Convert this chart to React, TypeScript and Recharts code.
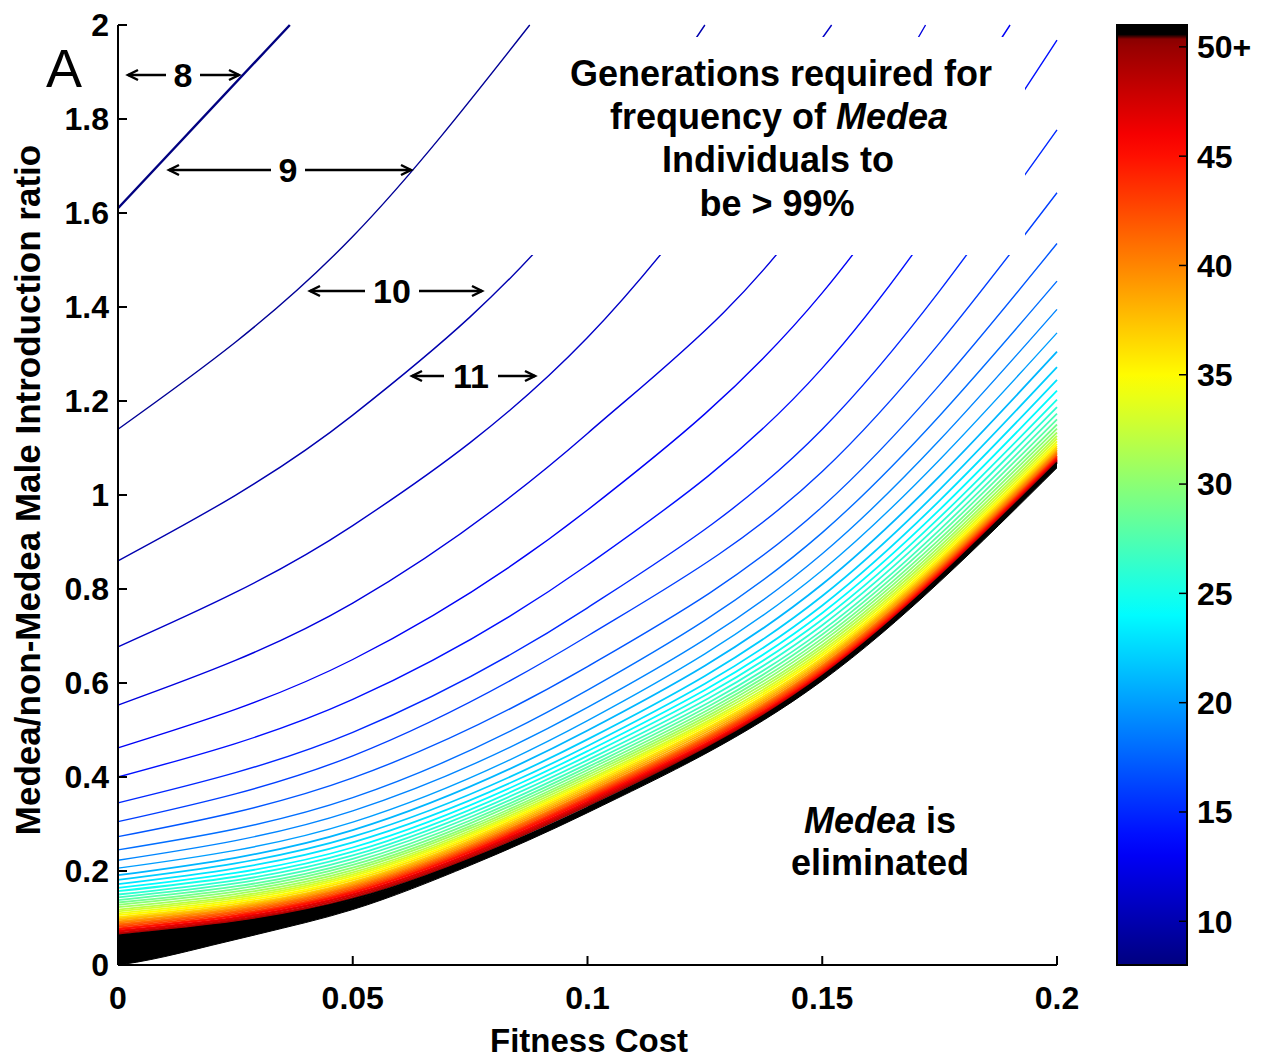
import React from "react";
import { Area, ComposedChart, Line, ReferenceArea, XAxis, YAxis } from "recharts";

const FONT = "'Liberation Sans', Arial, Helvetica, sans-serif";

// contour levels = generations needed for Medea frequency > 99%
const levels = [
  8, 9, 10, 11, 12, 13, 14, 15, 16, 17, 18, 19, 20, 21, 22, 23, 24, 25, 26, 27, 28,
  29, 30, 31, 32, 33, 34, 35, 36, 37, 38, 39, 40, 41, 42, 43, 44, 45, 46, 47, 48, 49, 50,
];

// introduction ratio of each contour, read at fitness cost 0 / 0.05 / 0.1 / 0.15 / 0.2
const costCols = [0, 0.05, 0.1, 0.15, 0.2];
const ratioAt000 = [
  1.61, 1.14, 0.86, 0.677, 0.553, 0.462, 0.4, 0.345, 0.305, 0.273,
  0.245, 0.223, 0.206, 0.191, 0.181, 0.172, 0.164, 0.157, 0.15, 0.144,
  0.138, 0.133, 0.128, 0.123, 0.118, 0.114, 0.11, 0.106, 0.102, 0.099,
  0.096, 0.093, 0.09, 0.087, 0.084, 0.081, 0.078, 0.076, 0.073, 0.071,
  0.068, 0.066, 0.063,
];
const ratioAt005 = [
  null, 1.55, 1.17, 0.935, 0.77, 0.65, 0.565, 0.495, 0.445, 0.398,
  0.356, 0.328, 0.304, 0.287, 0.273, 0.261, 0.25, 0.241, 0.233, 0.226,
  0.219, 0.213, 0.207, 0.202, 0.197, 0.193, 0.189, 0.185, 0.181, 0.177,
  0.174, 0.171, 0.168, 0.165, 0.162, 0.159, 0.156, 0.154, 0.151, 0.149,
  0.146, 0.143, 0.14,
];
const ratioAt010 = [
  null, null, 1.647, 1.335, 1.131, 0.968, 0.851, 0.76, 0.7, 0.635,
  0.585, 0.548, 0.52, 0.499, 0.48, 0.466, 0.455, 0.445, 0.436, 0.428,
  0.421, 0.415, 0.409, 0.404, 0.399, 0.394, 0.39, 0.386, 0.382, 0.378,
  0.374, 0.37, 0.366, 0.363, 0.36, 0.357, 0.354, 0.351, 0.348, 0.345,
  0.342, 0.339, 0.335,
];
const ratioAt015 = [
  null, null, null, null, 1.64, 1.43, 1.27, 1.14, 1.05, 0.975,
  0.92, 0.875, 0.84, 0.81, 0.785, 0.765, 0.749, 0.735, 0.723, 0.712,
  0.703, 0.695, 0.688, 0.681, 0.675, 0.669, 0.664, 0.659, 0.654, 0.65,
  0.646, 0.642, 0.638, 0.635, 0.632, 0.629, 0.626, 0.623, 0.621, 0.619,
  0.617, 0.616, 0.615,
];
const ratioAt020 = [
  null, null, null, null, null, null, 1.968, 1.777, 1.643, 1.535,
  1.455, 1.395, 1.345, 1.305, 1.272, 1.245, 1.222, 1.203, 1.187, 1.173,
  1.161, 1.15, 1.141, 1.133, 1.126, 1.12, 1.114, 1.109, 1.104, 1.1,
  1.096, 1.093, 1.09, 1.087, 1.084, 1.082, 1.08, 1.078, 1.076, 1.074,
  1.072, 1.071, 1.069,
];
// fitness cost where a contour leaves the top of the plot (ratio = 2)
const topExitCost = [0.0366, 0.0877, 0.125, 0.152, 0.172, 0.19];

// black "50+" region between the elimination boundary and the 50 contour
const elimCost = [0, 0.004, 0.01, 0.02, 0.03, 0.05, 0.075, 0.1, 0.15, 0.2];
const elimLow = [0, 0.006, 0.018, 0.042, 0.066, 0.118, 0.212, 0.324, 0.605, 1.058];
const elimHigh = [0.063, 0.067, 0.074, 0.088, 0.104, 0.139, 0.226, 0.334, 0.614, 1.068];

const xTicks = [0, 0.05, 0.1, 0.15, 0.2];
const yTicks = [0, 0.2, 0.4, 0.6, 0.8, 1, 1.2, 1.4, 1.6, 1.8, 2];
const barTicks = [10, 15, 20, 25, 30, 35, 40, 45, 50];
const barRange = [8, 51];

const jet = (t: number) => {
  const c = (v: number) => Math.round(255 * Math.max(0, Math.min(1, v)));
  return `rgb(${c(1.5 - Math.abs(4 * t - 3))},${c(1.5 - Math.abs(4 * t - 2))},${c(1.5 - Math.abs(4 * t - 1))})`;
};
const levelColor = (lvl: number) => (lvl >= 50 ? "#000" : jet((lvl - 8) / 43));

const contours = levels.map((lvl, i) => {
  const cols = [ratioAt000, ratioAt005, ratioAt010, ratioAt015, ratioAt020];
  const pts: { x: number; y: number }[] = [];
  cols.forEach((col, j) => {
    if (col[i] != null) pts.push({ x: costCols[j], y: col[i] as number });
  });
  if (topExitCost[i] != null) pts.push({ x: topExitCost[i], y: 2 });
  pts.sort((a, b) => a.x - b.x);
  return { lvl, pts };
});

const blackBand = elimCost.map((x, i) => ({ x, band: [elimLow[i], elimHigh[i]] }));
const barData = [
  { x: 0, v: barRange[0] },
  { x: 1, v: barRange[1] },
];

const tickFont = { fontSize: 32, fontWeight: 700, fill: "#000", fontFamily: FONT };

function Arrow({ x1, x2, cx, y, label }: { x1: number; x2: number; cx: number; y: number; label: string }) {
  const half = label.length * 10 + 7;
  return (
    <g stroke="#000" strokeWidth={2.5} fill="none">
      <line x1={x1} y1={y} x2={cx - half} y2={y} />
      <polyline points={`${x1 + 10},${y - 5} ${x1},${y} ${x1 + 10},${y + 5}`} />
      <line x1={cx + half} y1={y} x2={x2} y2={y} />
      <polyline points={`${x2 - 10},${y - 5} ${x2},${y} ${x2 - 10},${y + 5}`} />
      <text x={cx} y={y + 12} textAnchor="middle" stroke="none" fill="#000" fontSize={34} fontWeight={700} fontFamily={FONT}>
        {label}
      </text>
    </g>
  );
}

function ColorBar() {
  const stops = levels.map((lvl) => ({ off: (lvl - 8) / 43, color: jet((lvl - 8) / 43) }));
  return (
    <ComposedChart width={150} height={1059} data={barData} margin={{ top: 25, right: 0, bottom: 94, left: 2 }}>
      <defs>
        <linearGradient id="jetBar" x1="0" y1="1" x2="0" y2="0">
          {stops.map((s) => (
            <stop key={s.lvl + "-" + s.off} offset={s.off} stopColor={s.color} />
          ))}
          <stop offset={0.985} stopColor="#8a0000" />
          <stop offset={0.99} stopColor="#000" />
          <stop offset={1} stopColor="#000" />
        </linearGradient>
      </defs>
      <XAxis xAxisId="cb" type="number" dataKey="x" domain={[0, 1]} hide />
      <YAxis
        yAxisId="cl"
        orientation="left"
        type="number"
        domain={barRange}
        ticks={barTicks}
        interval={0}
        width={0}
        tickSize={-8}
        tick={false}
        axisLine={false}
        stroke="#000"
        strokeWidth={1.5}
      />
      <YAxis
        yAxisId="cr"
        orientation="right"
        type="number"
        domain={barRange}
        ticks={barTicks}
        interval={0}
        width={78}
        tickSize={-8}
        tickMargin={18}
        axisLine={false}
        stroke="#000"
        strokeWidth={1.5}
        tick={{ ...tickFont, textAnchor: "start" }}
        tickFormatter={(v: number) => (v === 50 ? "50+" : String(v))}
      />
      <ReferenceArea
        xAxisId="cb"
        yAxisId="cr"
        x1={0}
        x2={1}
        y1={barRange[0]}
        y2={barRange[1]}
        fill="url(#jetBar)"
        fillOpacity={1}
        stroke="#000"
        strokeWidth={2}
        ifOverflow="visible"
      />
      <Line xAxisId="cb" yAxisId="cr" dataKey="v" stroke="none" dot={false} activeDot={false} isAnimationActive={false} />
      <Line xAxisId="cb" yAxisId="cl" dataKey="v" stroke="none" dot={false} activeDot={false} isAnimationActive={false} />
    </ComposedChart>
  );
}

export default function App() {
  return (
    <div style={{ position: "absolute", left: 0, top: 0, width: 1268, height: 1059, background: "#fff", fontFamily: FONT }}>
      <div style={{ position: "absolute", left: 0, top: 0 }}>
        <ComposedChart width={1268} height={1059} margin={{ top: 25, right: 211, bottom: 0, left: 0 }}>
          <XAxis
            xAxisId="b"
            type="number"
            dataKey="x"
            domain={[0, 0.2]}
            ticks={xTicks}
            interval={0}
            height={94}
            tickSize={-9}
            tickMargin={30}
            tick={tickFont}
            stroke="#000"
            strokeWidth={2}
          />
          <XAxis
            xAxisId="t"
            orientation="top"
            type="number"
            domain={[0, 0.2]}
            ticks={xTicks}
            interval={0}
            height={0}
            tickSize={-9}
            tick={false}
            stroke="#000"
            strokeWidth={2}
          />
          <YAxis
            yAxisId="l"
            type="number"
            domain={[0, 2]}
            ticks={yTicks}
            interval={0}
            width={118}
            tickSize={-9}
            tickMargin={18}
            tick={tickFont}
            stroke="#000"
            strokeWidth={2}
          />
          <YAxis
            yAxisId="r"
            orientation="right"
            type="number"
            domain={[0, 2]}
            ticks={yTicks}
            interval={0}
            width={0}
            tickSize={-9}
            tick={false}
            stroke="#000"
            strokeWidth={2}
          />
          <Area
            xAxisId="b"
            yAxisId="l"
            data={blackBand}
            dataKey="band"
            type="monotone"
            fill="#000"
            fillOpacity={1}
            stroke="#000"
            strokeWidth={1}
            isAnimationActive={false}
          />
          {contours.map(({ lvl, pts }) => (
            <Line
              key={lvl}
              xAxisId="b"
              yAxisId="l"
              data={pts}
              dataKey="y"
              type="monotone"
              stroke={levelColor(lvl)}
              strokeWidth={lvl === 8 ? 2.4 : lvl <= 20 ? 1.4 : 1.8}
              dot={false}
              activeDot={false}
              isAnimationActive={false}
            />
          ))}
        </ComposedChart>
      </div>

      <div style={{ position: "absolute", left: 1115, top: 0 }}>
        <ColorBar />
      </div>

      <svg width={1268} height={1059} style={{ position: "absolute", left: 0, top: 0, pointerEvents: "none" }}>
        <rect x={527} y={37} width={498} height={218} fill="#fff" />
        <g fontFamily={FONT} fontWeight={700} fontSize={36} textAnchor="middle" fill="#000">
          <text x={781} y={86}>Generations required for</text>
          <text x={779} y={129}>
            frequency of <tspan fontStyle="italic">Medea</tspan>
          </text>
          <text x={778} y={172}>Individuals to</text>
          <text x={777} y={216}>be &gt; 99%</text>
          <text x={880} y={833}>
            <tspan fontStyle="italic">Medea</tspan> is
          </text>
          <text x={880} y={875}>eliminated</text>
          <text x={589} y={1052} fontSize={33}>Fitness Cost</text>
          <text transform="translate(40,490) rotate(-90)" fontSize={35}>
            Medea/non-Medea Male Introduction ratio
          </text>
        </g>
        <text x={64} y={87} fontFamily={FONT} fontSize={54} textAnchor="middle" fill="#000">
          A
        </text>
        <Arrow x1={128} x2={239} cx={183} y={75} label="8" />
        <Arrow x1={169} x2={411} cx={288} y={170} label="9" />
        <Arrow x1={310} x2={482} cx={392} y={291} label="10" />
        <Arrow x1={412} x2={535} cx={471} y={376} label="11" />
      </svg>
    </div>
  );
}
